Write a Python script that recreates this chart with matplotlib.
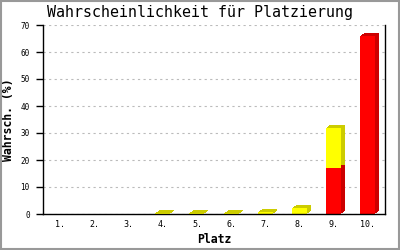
import matplotlib
matplotlib.use("Agg")
import matplotlib.pyplot as plt
import matplotlib.transforms as mtransforms
from matplotlib.patches import Rectangle
import numpy as np

categories = ["1.", "2.", "3.", "4.", "5.", "6.", "7.", "8.", "9.", "10."]
red_vals = [0, 0, 0, 0, 0, 0, 0, 0, 17, 66]
yellow_vals = [0, 0, 0, 0.3, 0.3, 0.3, 0.8, 2.3, 15, 0]
yticks = [0, 10, 20, 30, 40, 50, 60, 70]

FONT = "DejaVu Sans Mono"

fig = plt.figure(figsize=(4, 2.5), dpi=100)
ax = fig.add_axes([0.1075, 0.144, 0.855, 0.756])

x = np.arange(len(categories))
w = 0.44
red = np.array(red_vals)
yel = np.array(yellow_vals)

# extruded depth: several shifted copies give a 3D side/top face
for step in range(1, 5):
    shadow = mtransforms.offset_copy(ax.transData, fig=fig, x=step, y=0.75 * step, units="dots")
    for xi, r, yv in zip(x, red, yel):
        if r > 0:
            ax.bar(xi, r, w, color="#cc0000", transform=shadow, zorder=2, linewidth=0)
        if yv > 0:
            ax.bar(xi, yv, w, bottom=r, color="#cccc00", transform=shadow, zorder=2, linewidth=0)
# front bars
ax.bar(x, red, w, color="#ff0000", zorder=3, linewidth=0)
ax.bar(x, yel, w, bottom=red, color="#ffff00", zorder=3, linewidth=0)

ax.set_xlim(-0.5, len(categories) - 0.5)
ax.set_ylim(0, 70)
ax.set_yticks(yticks)
ax.set_yticklabels([str(t) for t in yticks], fontsize=5.5, family=FONT)
ax.set_xticks(x)
ax.set_xticklabels(categories, fontsize=6, family=FONT)
ax.tick_params(axis="y", length=5, width=1, pad=4.5, color="black")
ax.tick_params(axis="x", length=0, pad=4)
ax.yaxis.grid(True, linestyle=(0, (2, 3)), color="#bbbbbb", linewidth=0.8, zorder=0)
ax.set_axisbelow(True)
for s in ["left", "bottom", "right"]:
    ax.spines[s].set_color("black")
    ax.spines[s].set_linewidth(1)
    ax.spines[s].set_zorder(4)
ax.spines["top"].set_visible(False)

ax.set_xlabel("Platz", fontsize=8.3, family=FONT, fontweight="bold", labelpad=3)
ax.set_ylabel("Wahrsch. (%)", fontsize=8.3, family=FONT, fontweight="bold", labelpad=4)
fig.text(0.5, 0.948, "Wahrscheinlichkeit für Platzierung", ha="center", va="center",
         fontsize=10.8, family=FONT)

fig.patches.append(Rectangle((0.002, 0.003), 0.996, 0.994, transform=fig.transFigure,
                             fill=False, edgecolor="#999999", linewidth=1.5))

fig.savefig("out.png", dpi=100)
